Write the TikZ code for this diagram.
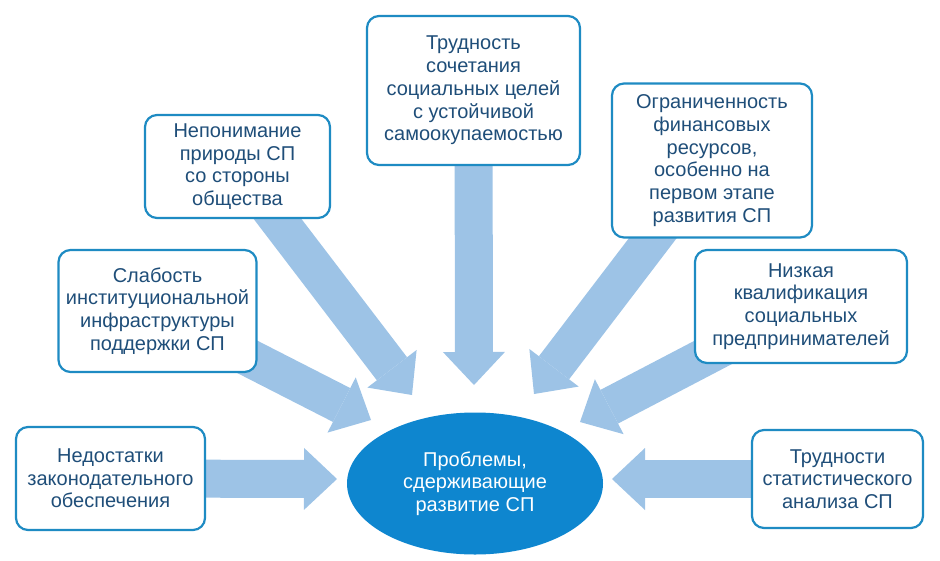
\documentclass[tikz,border=0pt]{standalone}
\usepackage{fontspec}
\setmainfont{Liberation Sans}
\usetikzlibrary{arrows.meta,shapes.geometric}
\definecolor{boxborder}{HTML}{1E8BC3}
\definecolor{txtblue}{HTML}{1F4E79}
\definecolor{arrowblue}{HTML}{9DC3E6}
\definecolor{ellfill}{HTML}{0E86CF}
\pgfdeclarelayer{bg}
\pgfsetlayers{bg,main}
\begin{document}
\begin{tikzpicture}[x=1pt,y=-1pt,
  box/.style={draw=boxborder, line width=2.2pt, rounded corners=12pt, fill=white,
    align=center, text=txtblue, inner sep=0pt, font=\fontsize{20}{22.7}\selectfont},
  bigarrow/.style={draw=arrowblue, line width=38pt,
    -{Triangle[width=62pt,length=33pt,line width=0pt]}},
  centre/.style={ellipse, fill=ellfill, text=white, align=center, inner sep=0pt,
    minimum width=256pt, minimum height=142pt, font=\fontsize{20}{22.7}\selectfont}
]
\useasboundingbox (0,0) rectangle (940,560);

\node[box, minimum width=189pt, minimum height=103pt] (n1) at (110.5,478.5)
  {Недостатки\\законодательного\\обеспечения};
\node[box, minimum width=198pt, minimum height=122pt] (n2) at (157.5,311)
  {Слабость\\институциональной\\инфраструктуры\\поддержки СП};
\node[box, minimum width=185pt, minimum height=103pt] (n3) at (237.5,166.5)
  {Непонимание\\природы СП\\со стороны\\общества};
\node[box, minimum width=213pt, minimum height=149pt] (n4) at (473.5,90.5)
  {Трудность\\сочетания\\социальных целей\\с устойчивой\\самоокупаемостью};
\node[box, minimum width=200pt, minimum height=154pt] (n5) at (712,160.5)
  {Ограниченность\\финансовых\\ресурсов,\\особенно на\\первом этапе\\развития СП};
\node[box, minimum width=212pt, minimum height=113pt] (n6) at (801,306.5)
  {Низкая\\квалификация\\социальных\\предпринимателей};
\node[box, minimum width=171pt, minimum height=98pt] (n7) at (837.5,479)
  {Трудности\\статистического\\анализа СП};

\node[centre] (c) at (475,483.5) {Проблемы,\\сдерживающие\\развитие СП};

\coordinate (t1) at (337,479);
\coordinate (t2) at (371,420);
\coordinate (t3) at (412,395);
\coordinate (t4) at (474,385);
\coordinate (t5) at (534,394);
\coordinate (t6) at (580,422);
\coordinate (t7) at (612,479);

\begin{pgfonlayer}{bg}
  \draw[bigarrow] (n1.center) -- (t1);
  \draw[bigarrow] (n2.center) -- (t2);
  \draw[bigarrow] (n3.center) -- (t3);
  \draw[bigarrow] (n4.center) -- (t4);
  \draw[bigarrow] (n5.center) -- (t5);
  \draw[bigarrow] (n6.center) -- (t6);
  \draw[bigarrow] (n7.center) -- (t7);
\end{pgfonlayer}
\end{tikzpicture}
\end{document}
